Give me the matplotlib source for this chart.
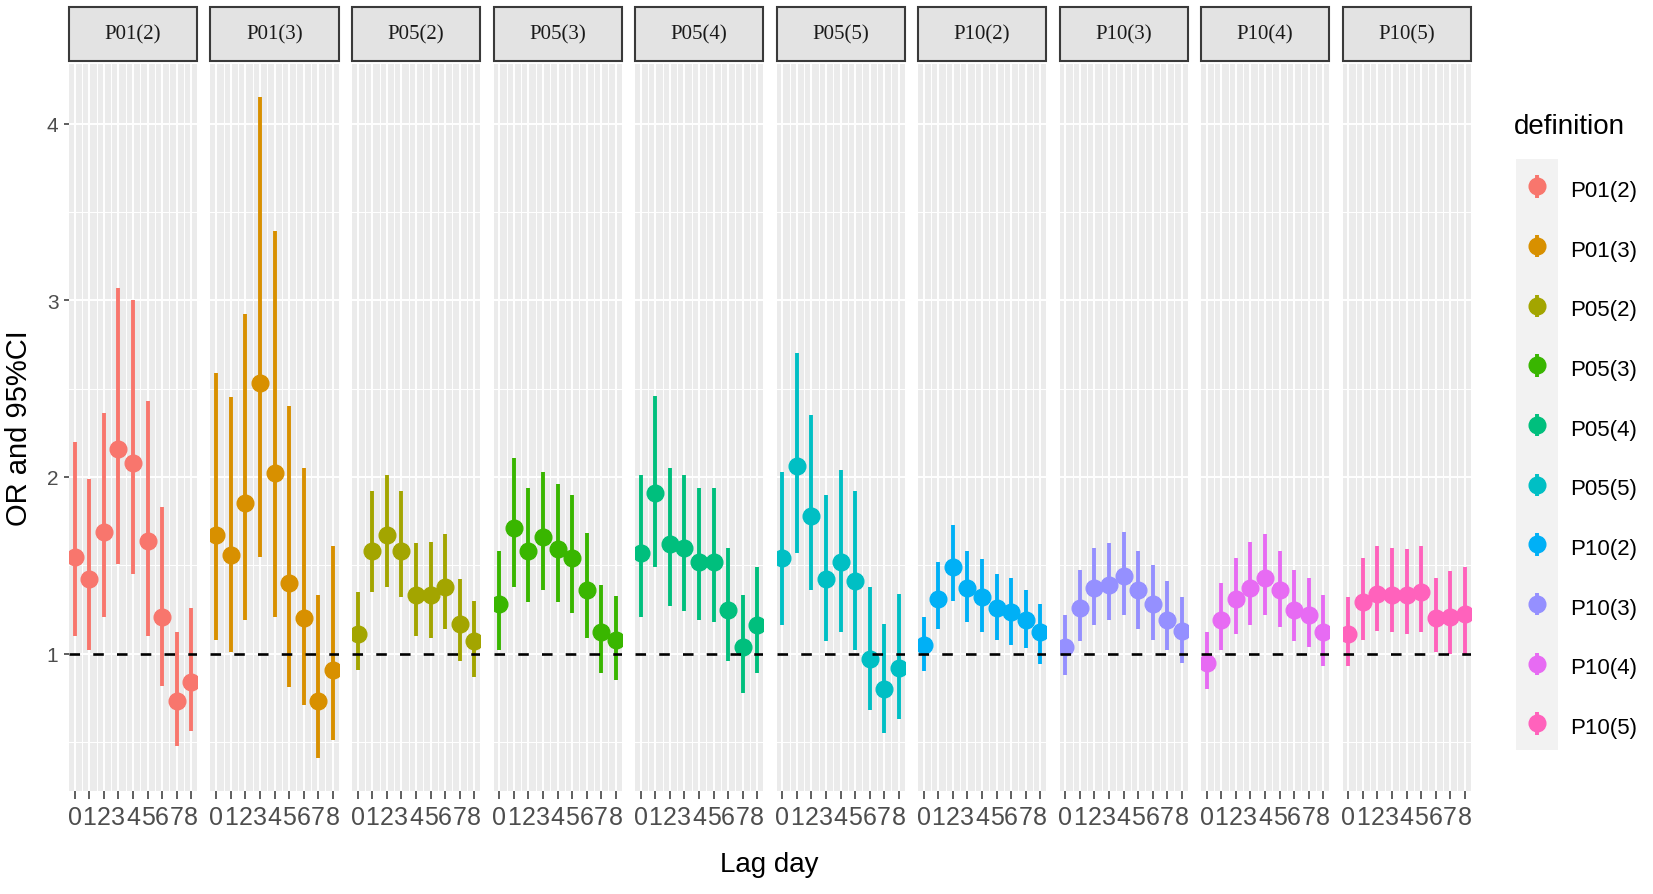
"""
plot.py
Odds ratios with 95% CI by lag day for each exposure definition (facetted).
"""

import numpy as np
import matplotlib
matplotlib.use("Agg")
import matplotlib.pyplot as plt
from matplotlib.patches import Rectangle

plt.rcParams['font.family'] = ['Liberation Sans', 'DejaVu Sans']

lags = [0, 1, 2, 3, 4, 5, 6, 7, 8]
definitions = ['P01(2)', 'P01(3)', 'P05(2)', 'P05(3)', 'P05(4)',
               'P05(5)', 'P10(2)', 'P10(3)', 'P10(4)', 'P10(5)']
colors = ['#F8766D', '#D89000', '#A3A500', '#39B600', '#00BF7D',
          '#00BFC4', '#00B0F6', '#9590FF', '#E76BF3', '#FF62BC']

or_p01_2 = [1.55, 1.42, 1.69, 2.16, 2.08, 1.64, 1.21, 0.73, 0.84]
lo_p01_2 = [1.10, 1.02, 1.21, 1.51, 1.45, 1.10, 0.82, 0.48, 0.56]
hi_p01_2 = [2.20, 1.99, 2.36, 3.07, 3.00, 2.43, 1.83, 1.12, 1.26]

or_p01_3 = [1.67, 1.56, 1.85, 2.53, 2.02, 1.40, 1.20, 0.73, 0.91]
lo_p01_3 = [1.08, 1.01, 1.19, 1.55, 1.21, 0.81, 0.71, 0.41, 0.51]
hi_p01_3 = [2.59, 2.45, 2.92, 4.15, 3.39, 2.40, 2.05, 1.33, 1.61]

or_p05_2 = [1.11, 1.58, 1.67, 1.58, 1.33, 1.33, 1.375, 1.17, 1.07]
lo_p05_2 = [0.91, 1.35, 1.375, 1.32, 1.10, 1.09, 1.14, 0.96, 0.87]
hi_p05_2 = [1.35, 1.92, 2.01, 1.92, 1.625, 1.63, 1.675, 1.42, 1.30]

or_p05_3 = [1.28, 1.71, 1.58, 1.66, 1.59, 1.54, 1.36, 1.12, 1.075]
lo_p05_3 = [1.02, 1.375, 1.29, 1.36, 1.29, 1.23, 1.09, 0.89, 0.85]
hi_p05_3 = [1.58, 2.11, 1.94, 2.03, 1.96, 1.90, 1.685, 1.39, 1.325]

or_p05_4 = [1.57, 1.91, 1.62, 1.60, 1.52, 1.52, 1.25, 1.04, 1.16]
lo_p05_4 = [1.21, 1.49, 1.27, 1.24, 1.19, 1.18, 0.96, 0.78, 0.89]
hi_p05_4 = [2.01, 2.46, 2.05, 2.01, 1.94, 1.94, 1.60, 1.33, 1.49]

or_p05_5 = [1.54, 2.06, 1.78, 1.42, 1.52, 1.41, 0.97, 0.80, 0.92]
lo_p05_5 = [1.16, 1.57, 1.36, 1.07, 1.12, 1.02, 0.68, 0.55, 0.63]
hi_p05_5 = [2.03, 2.70, 2.35, 1.90, 2.04, 1.92, 1.375, 1.17, 1.34]

or_p10_2 = [1.05, 1.31, 1.49, 1.37, 1.32, 1.26, 1.235, 1.19, 1.12]
lo_p10_2 = [0.90, 1.14, 1.30, 1.18, 1.12, 1.075, 1.05, 1.03, 0.94]
hi_p10_2 = [1.21, 1.52, 1.73, 1.58, 1.535, 1.45, 1.43, 1.36, 1.28]

or_p10_3 = [1.04, 1.26, 1.37, 1.39, 1.44, 1.36, 1.28, 1.19, 1.13]
lo_p10_3 = [0.88, 1.07, 1.16, 1.19, 1.22, 1.14, 1.08, 1.02, 0.95]
hi_p10_3 = [1.22, 1.475, 1.60, 1.625, 1.69, 1.58, 1.50, 1.41, 1.32]

or_p10_4 = [0.95, 1.19, 1.31, 1.37, 1.43, 1.36, 1.25, 1.22, 1.12]
lo_p10_4 = [0.80, 1.02, 1.11, 1.16, 1.22, 1.15, 1.07, 1.04, 0.93]
hi_p10_4 = [1.12, 1.40, 1.54, 1.63, 1.675, 1.58, 1.475, 1.43, 1.33]

or_p10_5 = [1.11, 1.29, 1.34, 1.33, 1.33, 1.35, 1.20, 1.21, 1.225]
lo_p10_5 = [0.93, 1.08, 1.13, 1.12, 1.11, 1.12, 1.01, 1.00, 1.00]
hi_p10_5 = [1.32, 1.54, 1.61, 1.60, 1.59, 1.61, 1.43, 1.47, 1.49]

or_all = [or_p01_2, or_p01_3, or_p05_2, or_p05_3, or_p05_4,
          or_p05_5, or_p10_2, or_p10_3, or_p10_4, or_p10_5]
lo_all = [lo_p01_2, lo_p01_3, lo_p05_2, lo_p05_3, lo_p05_4,
          lo_p05_5, lo_p10_2, lo_p10_3, lo_p10_4, lo_p10_5]
hi_all = [hi_p01_2, hi_p01_3, hi_p05_2, hi_p05_3, hi_p05_4,
          hi_p05_5, hi_p10_2, hi_p10_3, hi_p10_4, hi_p10_5]

W, H = 1653, 895
fig = plt.figure(figsize=(W / 100, H / 100), dpi=100)

# panel geometry in pixels
left0, pitch, pw = 69, 141.5, 128
ptop, pbot = 65, 792

axes = []
handles = []
for i, name in enumerate(definitions):
    rect = [(left0 + i * pitch) / W, 1 - pbot / H, pw / W, (pbot - ptop) / H]
    ax = fig.add_axes(rect, sharey=axes[0] if axes else None)
    axes.append(ax)
    ax.set_facecolor('#EBEBEB')
    for s in ax.spines.values():
        s.set_visible(False)

    o = np.array(or_all[i])
    lo = np.array(lo_all[i])
    hi = np.array(hi_all[i])
    eb = ax.errorbar(lags, o, yerr=[o - lo, hi - o], fmt='o', color=colors[i],
                     ms=12, elinewidth=2.8, capsize=0, zorder=3)
    handles.append(eb)
    ax.axhline(1, color='black', lw=1.9, linestyle=(0, (4, 5)), zorder=4)
    ax.margins(x=0.05, y=0.05)

    ax.set_xticks(lags)
    ax.set_xticks(np.arange(0.5, 8, 1), minor=True)
    ax.set_yticks([1, 2, 3, 4])
    ax.set_yticks([0.5, 1.5, 2.5, 3.5], minor=True)
    ax.grid(which='major', color='white', lw=1.4)
    ax.grid(which='minor', color='white', lw=0.7)
    ax.set_axisbelow(True)
    ax.tick_params(which='minor', length=0)
    ax.tick_params(axis='x', length=5.8, width=1.1, color='#333333', pad=4,
                   labelsize=18, labelcolor='#4D4D4D')
    if i == 0:
        ax.tick_params(axis='y', length=3.6, width=1.1, color='#333333', pad=4,
                       labelsize=15, labelcolor='#4D4D4D')
    else:
        ax.tick_params(axis='y', left=False, labelleft=False)

    # facet strip
    sb = 1 + (ptop - 62) / (pbot - ptop)
    st = 1 + (ptop - 8) / (pbot - ptop)
    ax.add_patch(Rectangle((0, sb), 1, st - sb, transform=ax.transAxes,
                           clip_on=False, fc='#E3E3E3', ec='#3A3A3A', lw=1.5))
    ax.text(0.5, (sb + st) / 2, name, transform=ax.transAxes, ha='center',
            va='center', fontsize=15, family='Liberation Serif', color='#1A1A1A')

fig.text(19 / W, 1 - 428 / H, 'OR and 95%CI', rotation=90, ha='center',
         va='center', fontsize=21)
fig.text((left0 + (left0 + 9 * pitch + pw)) / 2 / W, 1 - 865 / H, 'Lag day',
         ha='center', va='center', fontsize=20)

# legend: title, grey key column, entries
fig.text(1514 / W, 1 - 127 / H, 'definition', ha='left', va='center',
         fontsize=20)
fig.patches.append(Rectangle((1516 / W, 1 - 751 / H), 42 / W, (751 - 160) / H,
                             transform=fig.transFigure, fc='#F2F2F2', ec='none',
                             zorder=0))
leg = fig.legend(handles, definitions, loc='upper left',
                 bbox_to_anchor=(1516 / W, 1 - 178 / H), frameon=False,
                 fontsize=16, borderpad=0, borderaxespad=0,
                 handlelength=1.9, handleheight=1.2,
                 labelspacing=1.61, handletextpad=0.55)

fig.savefig('out.png', dpi=100)
